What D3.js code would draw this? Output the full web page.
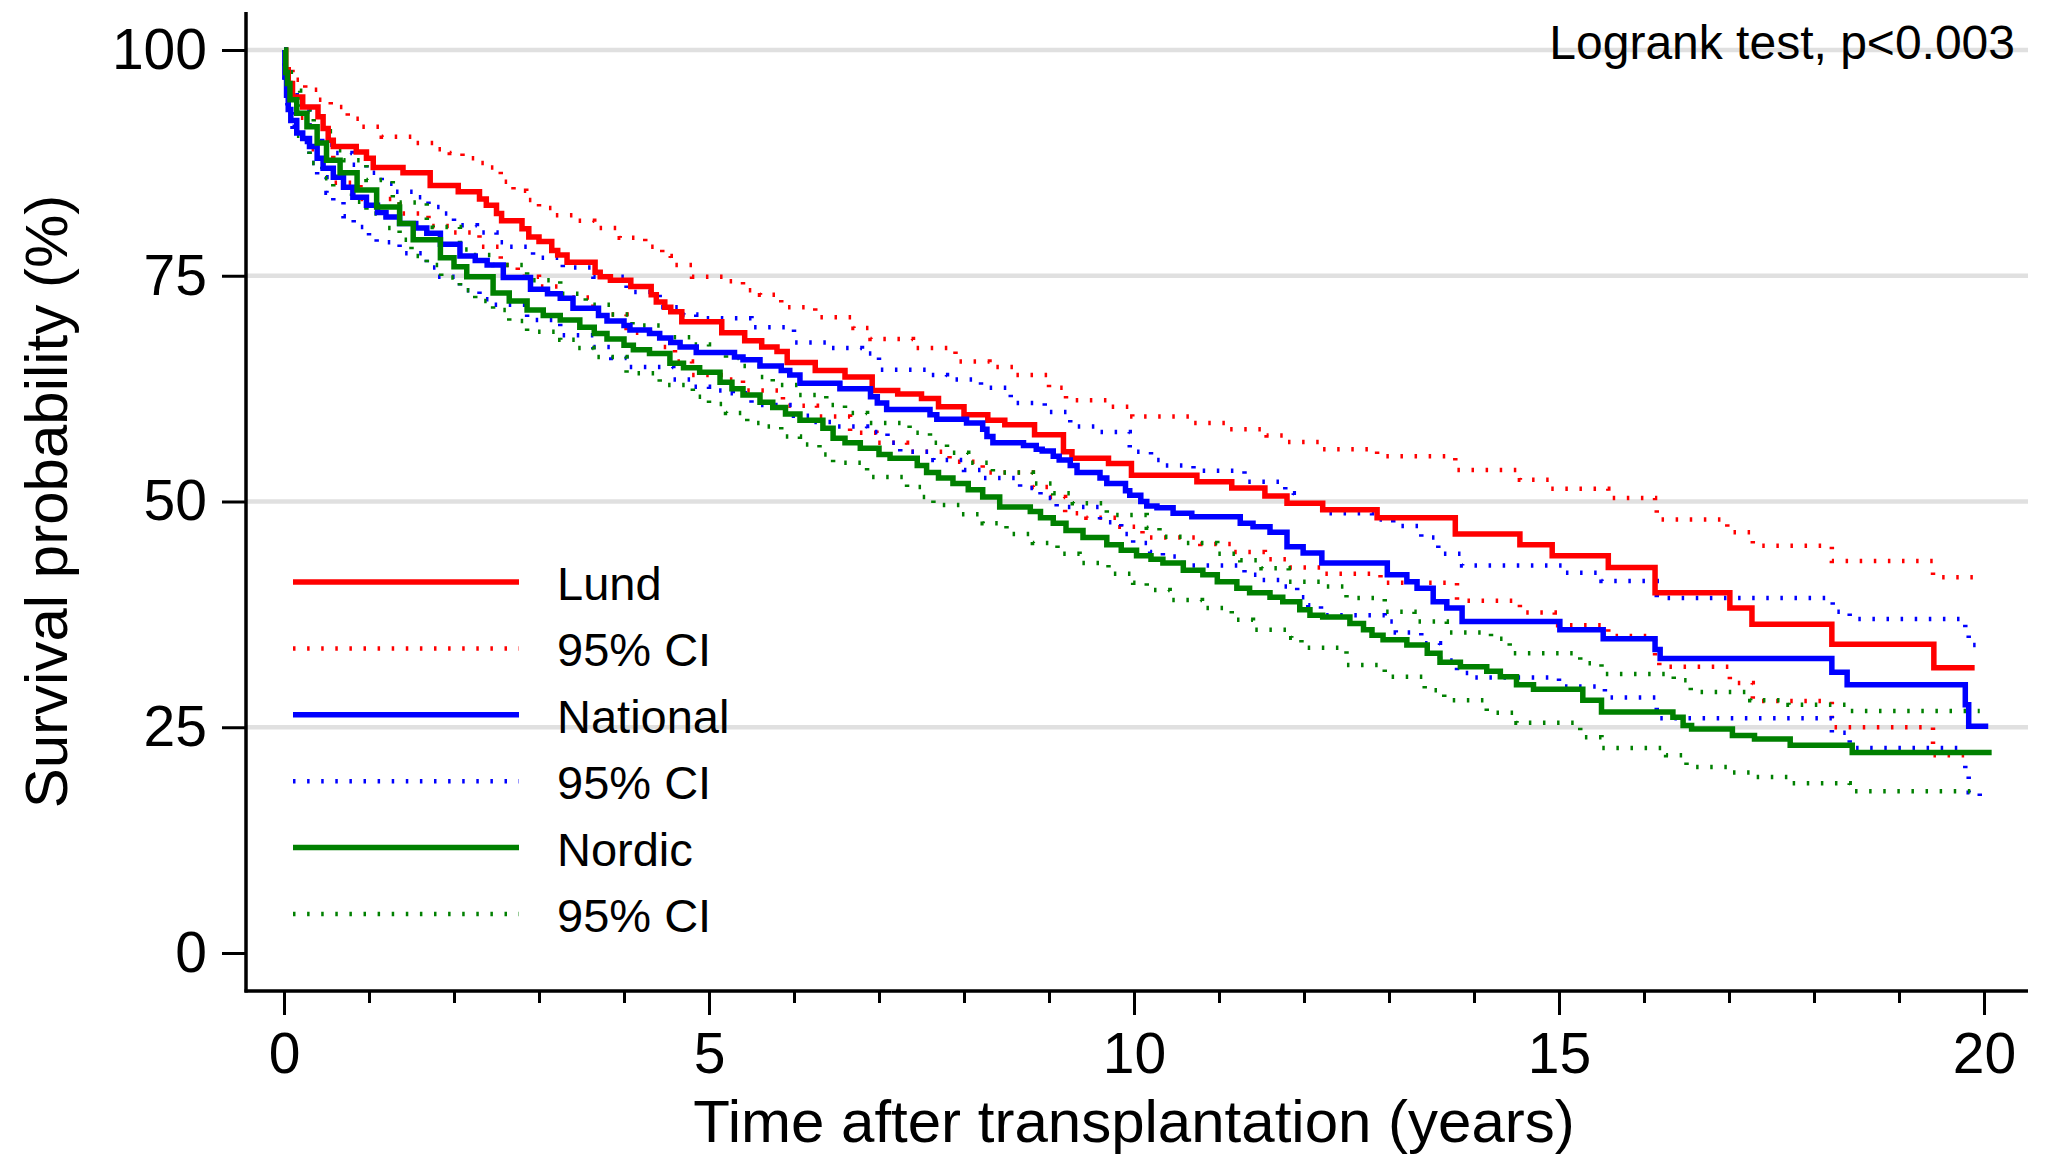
<!DOCTYPE html>
<html>
<head>
<meta charset="utf-8">
<script src="https://cdn.jsdelivr.net/npm/d3@7"></script>
<style>
body { margin: 0; background: #fff; }
svg { display: block; font-family: "Liberation Sans", Arial, Helvetica, sans-serif; }
</style>
</head>
<body>
<svg id="chart" width="2050" height="1157"></svg>
<script>
// [years, survival %], step-after
var lund = [[0,100],[0.02,97.8],[0.05,96.3],[0.1,94.8],[0.22,93.7],[0.4,92.6],[0.46,91.3],[0.52,90.0],[0.58,89.3],[0.85,88.7],[0.97,88.0],[1.05,87.0],[1.4,86.4],[1.72,85.0],[2.05,84.3],[2.3,83.5],[2.38,82.8],[2.5,81.9],[2.56,81.1],[2.8,80.2],[2.88,79.3],[3.0,78.8],[3.15,77.8],[3.22,77.3],[3.33,76.5],[3.66,75.4],[3.72,74.9],[3.84,74.5],[4.08,73.8],[4.32,72.9],[4.38,72.1],[4.48,71.5],[4.55,71.0],[4.68,69.9],[5.15,68.7],[5.42,67.8],[5.62,67.1],[5.8,66.6],[5.92,65.4],[6.25,64.5],[6.6,63.8],[6.92,62.3],[7.22,61.9],[7.5,61.4],[7.7,60.5],[8.0,59.6],[8.28,59.0],[8.48,58.5],[8.83,57.4],[9.17,55.5],[9.27,54.8],[9.7,54.2],[9.97,52.9],[10.74,52.2],[11.15,51.5],[11.54,50.6],[11.8,49.8],[12.22,49.1],[12.86,48.2],[13.78,46.4],[14.54,45.2],[14.92,44.0],[15.58,42.7],[16.13,39.9],[17.01,38.2],[17.27,36.4],[18.21,34.2],[19.41,31.6],[19.89,31.6]];
var lundLo = [[0,100],[0.02,96.1],[0.1,92.5],[0.3,89.0],[0.58,85.3],[0.9,83.5],[1.36,81.9],[1.7,80.5],[2.0,79.8],[2.3,78.2],[2.55,76.2],[2.75,74.9],[3.0,73.8],[3.25,72.6],[3.64,70.7],[4.03,68.7],[4.42,67.1],[4.6,65.5],[4.8,64.0],[5.2,63.5],[5.4,62.3],[5.87,60.6],[6.27,59.4],[6.66,57.6],[6.97,56.5],[7.33,55.5],[7.83,54.4],[8.22,53.2],[8.81,51.6],[9.0,50.5],[9.19,48.7],[9.44,48.2],[9.84,47.2],[10.1,46.0],[10.78,45.3],[11.15,44.4],[11.54,43.6],[11.8,42.7],[12.2,42.0],[12.9,41.0],[13.8,39.0],[14.54,37.7],[14.95,36.3],[15.58,35.1],[16.13,32.7],[16.18,31.7],[17.01,29.9],[17.28,27.9],[18.21,25.0],[19.4,21.9],[19.89,21.9]];
var lundHi = [[0,100],[0.02,98.6],[0.1,96.7],[0.25,95.6],[0.4,94.5],[0.55,93.7],[0.75,92.4],[0.9,91.5],[1.15,90.4],[1.55,89.7],[1.8,89.0],[1.95,88.6],[2.1,88.0],[2.3,87.5],[2.4,87.0],[2.55,85.4],[2.7,84.4],[2.85,83.4],[3.0,82.5],[3.17,81.7],[3.4,81.1],[3.65,80.3],[3.95,79.2],[4.25,78.2],[4.45,77.2],[4.55,76.2],[4.8,74.9],[5.2,74.4],[5.4,73.4],[5.6,72.9],[5.85,71.5],[6.25,70.4],[6.7,69.2],[6.9,68.0],[7.4,67.0],[7.9,65.5],[8.3,64.9],[8.6,64.0],[9.0,62.6],[9.2,61.2],[9.7,60.5],[9.98,59.4],[10.7,58.7],[11.13,58.0],[11.56,57.3],[11.8,56.6],[12.22,55.8],[12.86,55.0],[13.78,53.5],[14.54,52.4],[14.89,51.4],[15.58,50.4],[16.13,49.5],[16.15,48.0],[16.98,46.6],[17.28,45.1],[18.21,43.4],[19.4,41.6],[19.89,41.6]];

var national = [[0,100],[0.01,97],[0.03,95],[0.05,93.4],[0.08,92.2],[0.15,90.8],[0.22,90.2],[0.3,89.3],[0.39,88.0],[0.46,86.9],[0.58,85.9],[0.7,84.8],[0.81,83.7],[0.97,82.8],[1.1,82.0],[1.2,81.5],[1.36,80.8],[1.55,80.3],[1.68,79.7],[1.84,78.5],[2.07,77.2],[2.25,76.7],[2.39,76.2],[2.58,74.8],[2.9,73.5],[3.1,73.0],[3.25,72.5],[3.4,71.4],[3.7,70.6],[3.8,70.0],[4.0,69.5],[4.07,69.0],[4.3,68.6],[4.42,68.1],[4.55,67.6],[4.66,67.1],[4.85,66.5],[5.3,66.0],[5.4,65.7],[5.6,65.0],[5.85,64.5],[5.95,64.0],[6.07,63.1],[6.54,62.5],[6.9,61.6],[6.98,60.9],[7.09,60.2],[7.6,59.6],[7.68,59.1],[8.03,58.7],[8.22,58.0],[8.27,57.2],[8.34,56.5],[8.7,56.2],[8.85,55.8],[8.92,55.6],[9.05,55.0],[9.12,54.6],[9.25,54.0],[9.33,53.2],[9.6,52.6],[9.68,52.0],[9.9,51.2],[9.95,50.7],[10.08,50.0],[10.15,49.5],[10.27,49.3],[10.46,48.7],[10.68,48.3],[11.25,47.6],[11.4,47.2],[11.6,46.6],[11.8,45.0],[11.99,44.3],[12.21,43.2],[12.98,41.9],[13.21,41.1],[13.33,40.4],[13.52,38.9],[13.68,38.2],[13.86,36.7],[15.01,35.8],[15.52,34.8],[16.13,33.6],[16.19,32.6],[18.21,31.1],[18.39,29.7],[19.78,27.5],[19.82,25.1],[20.05,25.1]];
var nationalLo = [[0,100],[0.01,96.5],[0.04,93.4],[0.1,91.5],[0.19,89.8],[0.3,87.5],[0.39,85.9],[0.5,84.2],[0.58,83.2],[0.7,81.6],[0.82,80.4],[1.0,79.2],[1.09,78.7],[1.36,77.5],[1.68,75.9],[1.8,74.9],[2.07,73.4],[2.3,72.4],[2.46,71.8],[2.86,70.1],[3.25,68.4],[3.64,67.1],[3.85,65.9],[4.03,64.9],[4.58,63.5],[4.81,62.7],[5.0,62.3],[5.28,62.0],[5.5,60.7],[6.0,59.5],[6.2,58.8],[6.46,58.3],[6.86,57.7],[7.1,56.5],[7.25,55.5],[7.64,54.6],[8.0,53.5],[8.22,52.6],[8.66,51.5],[8.9,50.4],[9.09,49.4],[9.6,47.7],[9.85,46.4],[9.99,45.4],[10.19,44.4],[10.34,43.9],[10.58,42.9],[11.3,41.9],[11.5,41.3],[11.75,40.6],[11.92,39.4],[12.05,38.5],[12.2,37.4],[12.95,36.7],[13.08,35.5],[13.38,34.3],[13.6,32.4],[13.8,31.0],[13.99,30.5],[15.0,29.5],[15.54,28.3],[16.15,26.0],[18.21,24.4],[18.42,22.7],[19.78,20.3],[19.82,17.8],[19.95,17.2]];
var nationalHi = [[0,100],[0.02,97.5],[0.08,95.0],[0.15,93.2],[0.3,91.0],[0.45,89.5],[0.58,88.6],[0.8,87.3],[0.97,86.4],[1.15,85.2],[1.29,84.3],[1.52,83.7],[1.7,82.6],[1.84,81.9],[2.0,80.6],[2.27,79.8],[2.5,78.7],[2.58,78.2],[2.93,77.0],[3.28,75.9],[3.64,74.9],[4.03,73.2],[4.42,71.5],[4.7,70.7],[4.85,70.3],[5.5,69.3],[6.0,67.6],[6.4,67.0],[6.8,66.4],[7.0,64.6],[7.55,64.0],[7.8,63.5],[8.2,62.6],[8.55,60.9],[8.95,59.9],[9.25,58.3],[9.55,57.7],[9.95,55.5],[10.2,54.6],[10.34,54.0],[10.7,53.4],[11.3,52.2],[11.78,50.9],[11.88,49.8],[12.22,48.7],[12.8,48.0],[13.05,47.3],[13.38,46.0],[13.58,44.2],[13.86,42.9],[15.05,42.1],[15.5,41.2],[16.15,39.3],[18.22,37.8],[18.42,37.0],[19.78,35.4],[19.82,34.1],[19.95,34.1]];

var nordic = [[0,100],[0.02,97.5],[0.04,96.3],[0.07,94.5],[0.15,93.0],[0.27,91.5],[0.39,89.7],[0.5,87.8],[0.66,86.4],[0.86,84.5],[1.09,82.6],[1.36,80.8],[1.52,79.0],[1.84,77.0],[2.0,76.0],[2.15,74.9],[2.46,73.1],[2.65,72.2],[2.86,71.2],[3.05,70.6],[3.25,70.1],[3.48,69.3],[3.65,68.6],[3.8,68.0],[4.0,67.3],[4.11,66.8],[4.3,66.4],[4.54,65.3],[4.7,64.8],[4.89,64.3],[5.13,63.2],[5.27,62.5],[5.4,61.8],[5.6,61.0],[5.75,60.4],[5.9,59.7],[6.07,59.0],[6.34,58.1],[6.46,57.0],[6.6,56.5],[6.78,55.9],[7.0,55.2],[7.13,54.8],[7.45,54.0],[7.56,53.2],[7.7,52.6],[7.87,52.0],[8.05,51.3],[8.22,50.5],[8.42,49.4],[8.78,48.9],[8.9,48.2],[9.05,47.6],[9.2,46.8],[9.4,46.0],[9.68,45.2],[9.85,44.6],[10.03,44.0],[10.2,43.6],[10.34,43.2],[10.58,42.4],[10.81,41.9],[10.98,41.1],[11.21,40.4],[11.36,39.9],[11.6,39.4],[11.75,38.9],[11.95,38.0],[12.07,37.4],[12.22,37.2],[12.54,36.5],[12.7,35.8],[12.8,35.2],[12.93,34.7],[13.21,34.1],[13.45,33.2],[13.6,32.2],[13.84,31.7],[14.15,31.2],[14.31,30.6],[14.5,29.7],[14.7,29.2],[15.28,28.0],[15.5,26.7],[16.34,26.1],[16.46,25.2],[16.56,24.8],[17.04,24.1],[17.3,23.7],[17.72,23.0],[18.45,22.2],[20.09,22.2]];
var nordicLo = [[0,100],[0.01,97],[0.05,93.5],[0.15,90.5],[0.3,87.5],[0.45,85.8],[0.58,84.8],[0.8,83.2],[0.97,81.9],[1.2,80.3],[1.36,79.0],[1.5,77.2],[1.68,76.2],[1.85,74.8],[2.07,73.4],[2.25,72.2],[2.46,71.2],[2.65,70.0],[2.86,68.8],[3.25,67.9],[3.45,67.0],[3.64,66.0],[4.03,64.2],[4.42,62.9],[4.81,61.6],[5.0,60.8],[5.2,59.8],[5.45,58.7],[5.6,58.3],[5.85,57.2],[6.07,56.3],[6.3,55.2],[6.46,54.3],[6.86,52.7],[7.33,51.6],[7.5,50.5],[7.64,49.6],[7.95,48.6],[8.22,47.6],[8.5,46.4],[8.81,45.4],[9.1,44.2],[9.36,43.2],[9.7,42.0],[9.99,41.0],[10.15,40.2],[10.42,39.1],[10.8,38.2],[11.15,36.9],[11.4,35.8],[11.85,34.9],[11.97,33.8],[12.5,31.9],[12.95,30.6],[13.42,29.1],[13.65,28.0],[14.15,26.6],[14.5,25.5],[15.25,23.9],[15.5,22.7],[16.26,21.9],[16.5,20.6],[17.02,20.0],[17.28,19.5],[17.7,18.8],[18.42,17.9],[19.95,17.9]];
var nordicHi = [[0,100],[0.02,97.5],[0.08,95.5],[0.19,93.4],[0.35,91.0],[0.58,88.9],[0.7,87.8],[0.97,85.6],[1.28,83.4],[1.36,83.1],[1.68,80.6],[1.75,80.4],[2.07,77.9],[2.2,77.3],[2.46,76.2],[2.86,74.5],[3.25,73.0],[3.55,71.8],[3.84,70.7],[4.1,69.5],[4.42,68.2],[4.81,67.4],[5.0,66.5],[5.2,65.9],[5.35,65.0],[5.6,63.8],[5.75,62.9],[6.05,61.8],[6.38,60.7],[6.6,59.8],[6.86,58.7],[7.36,57.6],[7.6,56.5],[7.8,55.4],[8.05,54.3],[8.34,53.2],[8.81,52.0],[9.05,50.9],[9.28,49.8],[9.68,48.5],[10.15,47.1],[10.3,46.1],[10.6,45.4],[10.98,44.2],[11.25,43.5],[11.5,42.6],[11.82,41.1],[12.2,40.6],[12.5,39.3],[12.95,37.8],[13.3,36.7],[13.68,35.5],[14.2,34.8],[14.42,33.2],[15.25,32.1],[15.5,30.9],[16.35,30.2],[16.55,28.9],[17.25,28.0],[17.7,27.5],[18.42,26.8],[19.95,26.8]];

var xTicks = [0, 5, 10, 15, 20];
var yTicks = [0, 25, 50, 75, 100];
var gridTicks = [25, 50, 75, 100];
var legendLabels = ["Lund", "95% CI", "National", "95% CI", "Nordic", "95% CI"];

var svg = d3.select("#chart"),
    width = +svg.attr("width"),
    height = +svg.attr("height");

var x = d3.scaleLinear().domain([0, 20]).range([284, 1984]),
    y = d3.scaleLinear().domain([0, 100]).range([953, 50]);

var axisLeftX = 246, axisBottomY = 991, plotRight = 2028, plotTop = 12;
var mainWidth = 5.5, ciWidth = 4.5, ciDash = "2.5,11.6";

svg.append("rect").attr("width", width).attr("height", height).attr("fill", "#fff");

svg.append("g").selectAll("line")
    .data(gridTicks)
    .enter().append("line")
    .attr("x1", axisLeftX).attr("x2", plotRight)
    .attr("y1", function(d) { return y(d); })
    .attr("y2", function(d) { return y(d); })
    .attr("stroke", "#e0e0e0")
    .attr("stroke-width", 4.5);

var series = [
    {data: lundLo, color: "#ff0000", ci: true},
    {data: lundHi, color: "#ff0000", ci: true},
    {data: nationalLo, color: "#0000ff", ci: true},
    {data: nationalHi, color: "#0000ff", ci: true},
    {data: nordicLo, color: "#008000", ci: true},
    {data: nordicHi, color: "#008000", ci: true},
    {data: lund, color: "#ff0000", ci: false},
    {data: national, color: "#0000ff", ci: false},
    {data: nordic, color: "#008000", ci: false}
];

var line = d3.line()
    .x(function(d) { return x(d[0]); })
    .y(function(d) { return y(d[1]); })
    .curve(d3.curveStepAfter);

svg.append("g").selectAll("path")
    .data(series)
    .enter().append("path")
    .attr("d", function(d) { return line(d.data); })
    .attr("fill", "none")
    .attr("stroke", function(d) { return d.color; })
    .attr("stroke-width", function(d) { return d.ci ? ciWidth : mainWidth; })
    .attr("stroke-dasharray", function(d) { return d.ci ? ciDash : null; })
    .attr("stroke-linejoin", "miter");

// axes
var gy = svg.append("g")
    .attr("transform", "translate(" + axisLeftX + ",0)")
    .call(d3.axisLeft(y).tickValues(yTicks).tickSize(24).tickPadding(15));
gy.select(".domain").remove();

var gx = svg.append("g")
    .attr("transform", "translate(0," + axisBottomY + ")")
    .call(d3.axisBottom(x).tickValues(xTicks).tickSize(24).tickPadding(18));
gx.select(".domain").remove();

var gxm = svg.append("g")
    .attr("transform", "translate(0," + axisBottomY + ")")
    .call(d3.axisBottom(x).tickValues(d3.range(0, 21).filter(function(d) { return d % 5; })).tickSize(12).tickFormat(""));
gxm.select(".domain").remove();

svg.selectAll(".tick line").attr("stroke", "#000").attr("stroke-width", 3);
svg.selectAll(".tick text")
    .attr("fill", "#000")
    .style("font-size", "57px")
    .style("font-family", "'Liberation Sans', Arial, sans-serif");

svg.append("line")
    .attr("x1", axisLeftX).attr("x2", axisLeftX)
    .attr("y1", plotTop).attr("y2", axisBottomY + 1.5)
    .attr("stroke", "#000").attr("stroke-width", 3.5);
svg.append("line")
    .attr("x1", axisLeftX - 1.5).attr("x2", plotRight)
    .attr("y1", axisBottomY).attr("y2", axisBottomY)
    .attr("stroke", "#000").attr("stroke-width", 3.5);

svg.append("text")
    .attr("transform", "translate(67," + ((y(0) + y(100)) / 2) + ") rotate(-90)")
    .attr("text-anchor", "middle")
    .style("font-size", "60px")
    .text("Survival probability (%)");

svg.append("text")
    .attr("x", (x(0) + x(20)) / 2)
    .attr("y", 1142)
    .attr("text-anchor", "middle")
    .style("font-size", "60px")
    .text("Time after transplantation (years)");

svg.append("text")
    .attr("x", 2015)
    .attr("y", 59)
    .attr("text-anchor", "end")
    .style("font-size", "48px")
    .text("Logrank test, p<0.003");

// legend
var legendItems = [series[6], series[0], series[7], series[2], series[8], series[4]];
var legend = svg.append("g").selectAll("g")
    .data(legendItems)
    .enter().append("g")
    .attr("transform", function(d, i) { return "translate(0," + (582 + i * 66.4) + ")"; });

legend.append("line")
    .attr("x1", 293).attr("x2", 519)
    .attr("stroke", function(d) { return d.color; })
    .attr("stroke-width", function(d) { return d.ci ? ciWidth : mainWidth; })
    .attr("stroke-dasharray", function(d) { return d.ci ? ciDash : null; });

legend.append("text")
    .attr("x", 557)
    .attr("y", 18)
    .style("font-size", "47px")
    .text(function(d, i) { return legendLabels[i]; });
</script>
</body>
</html>
